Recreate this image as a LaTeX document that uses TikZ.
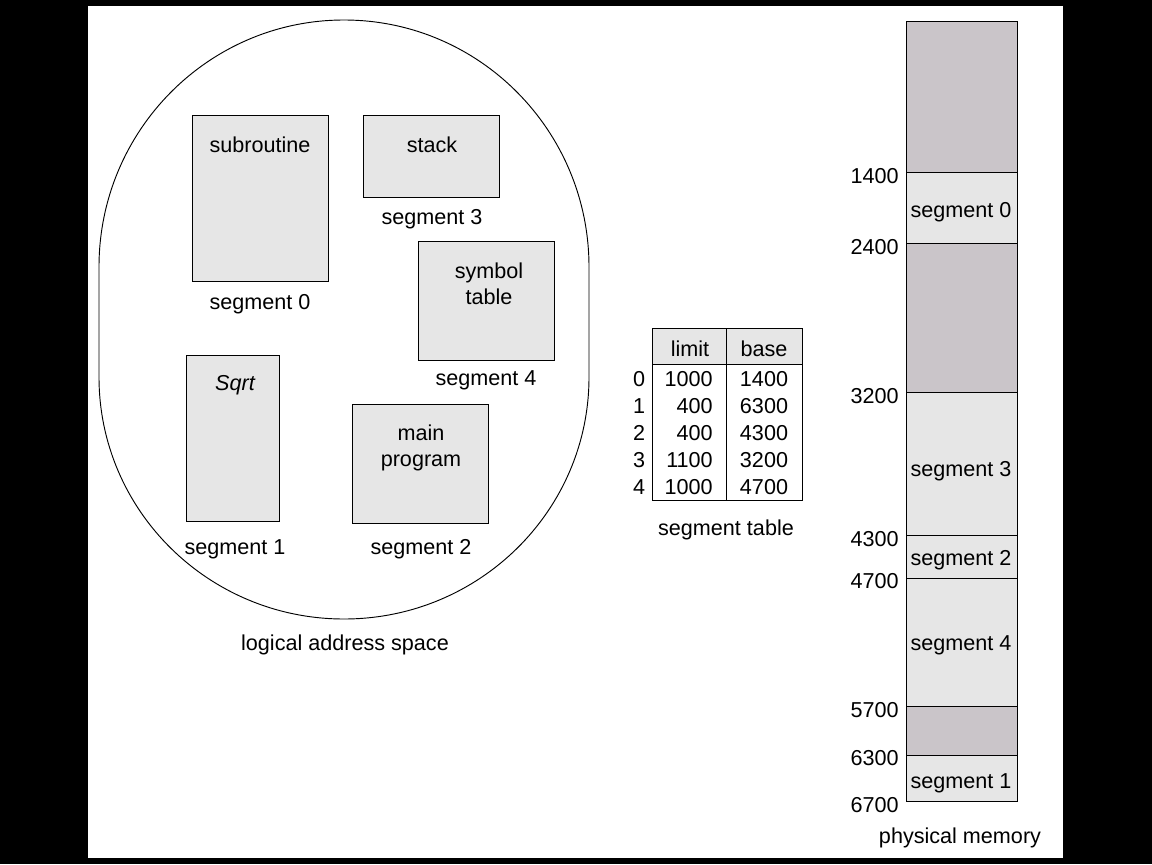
\documentclass[tikz,border=0pt]{standalone}
\usepackage{fontspec}
\setmainfont{Liberation Sans}
\definecolor{segfill}{HTML}{E6E6E6}
\definecolor{holefill}{HTML}{CAC5C9}
\begin{document}
\begin{tikzpicture}[x=0.75pt,y=-0.75pt,
  every node/.style={font=\fontsize{16.2}{19.5}\selectfont, inner sep=0pt, align=center, yshift=-1.5pt},
  segbox/.style={draw=black, line width=0.75pt, fill=segfill},
  holebox/.style={draw=black, line width=0.75pt, fill=holefill},
  thinline/.style={draw=black, line width=0.75pt},
  addr/.style={anchor=east}]
% background and page
\fill[black] (0,0) rectangle (1152,864);
\useasboundingbox (0,0) rectangle (1152,864);
\fill[white] (88,6) rectangle (1063,858);

% logical address space outline
\draw[line width=0.7pt] (99,267) .. controls (99,130.6) and (208.7,20) .. (344,20)
  .. controls (479.3,20) and (589,130.6) .. (589,267) -- (589,377)
  .. controls (589,510.7) and (479.3,619) .. (344,619)
  .. controls (208.7,619) and (99,510.7) .. (99,377) -- cycle;

% segments in logical space
\draw[segbox] (192,115) rectangle (328,281);
\node (sub) at (260,143) {subroutine};
\node (seg0) at (260,302) {segment 0};

\draw[segbox] (363,115) rectangle (499,197);
\node (stack) at (432,143) {stack};
\node (seg3) at (432,217) {segment 3};

\draw[segbox] (418,241) rectangle (554,360);
\node (sym) at (489,282) {symbol\\table};
\node (seg4) at (486,378) {segment 4};

\draw[segbox] (186,355) rectangle (279,521);
\node (sqrt) at (235,383) {\itshape Sqrt};
\node (seg1) at (235,547) {segment 1};

\draw[segbox] (352,404) rectangle (488,523);
\node (mainp) at (421,446) {main\\program};
\node (seg2) at (421,547) {segment 2};

\node (las) at (345,643) {logical address space};

% segment table
\fill[segfill] (652,328) rectangle (802,364);
\draw[thinline] (652,328) rectangle (802,500);
\draw[thinline] (652,364) -- (802,364);
\draw[thinline] (726,328) -- (726,500);
\node (hlim) at (690,347) {limit};
\node (hbase) at (764,347) {base};
\foreach \i/\lim/\bas/\yy in {0/1000/1400/377, 1/400/6300/404, 2/400/4300/431, 3/1100/3200/458, 4/1000/4700/485}{
  \node (r\i) at (639,\yy) {\i};
  \node[anchor=east] (l\i) at (713,\yy) {\lim};
  \node (b\i) at (764,\yy) {\bas};
}
\node (stab) at (726,528) {segment table};

% physical memory
\draw[holebox] (906,21) rectangle (1017,172);
\draw[segbox] (906,172) rectangle (1017,243);
\draw[holebox] (906,243) rectangle (1017,392);
\draw[segbox] (906,392) rectangle (1017,535);
\draw[segbox] (906,535) rectangle (1017,578);
\draw[segbox] (906,578) rectangle (1017,706);
\draw[holebox] (906,706) rectangle (1017,755);
\draw[segbox] (906,755) rectangle (1017,801);
\node (p0) at (961,210) {segment 0};
\node (p3) at (961,469) {segment 3};
\node (p2) at (961,558) {segment 2};
\node (p4) at (961,643) {segment 4};
\node (p1) at (961,781) {segment 1};
\node[addr] (a1400) at (899,174) {1400};
\node[addr] (a2400) at (899,245) {2400};
\node[addr] (a3200) at (899,394) {3200};
\node[addr] (a4300) at (899,537) {4300};
\node[addr] (a4700) at (899,579) {4700};
\node[addr] (a5700) at (899,708) {5700};
\node[addr] (a6300) at (899,756) {6300};
\node[addr] (a6700) at (899,803) {6700};
\node (pm) at (960,836) {physical memory};
\end{tikzpicture}
\end{document}
